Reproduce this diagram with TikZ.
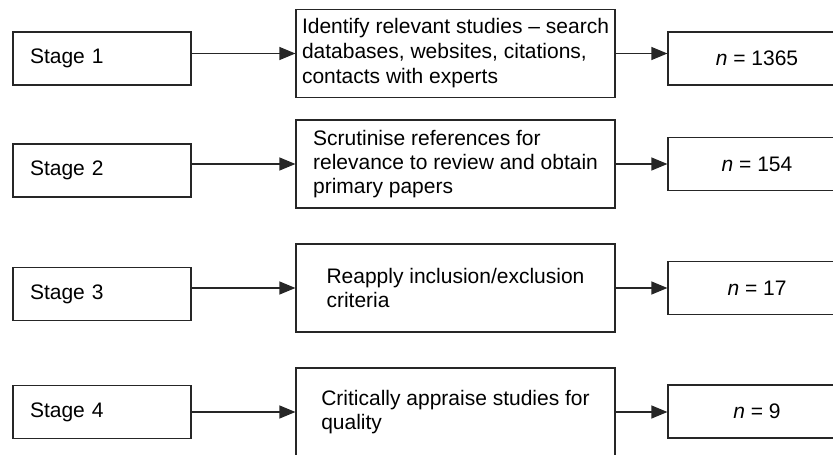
\documentclass[tikz,border=0pt]{standalone}
\usepackage{fontspec}
\setmainfont{Liberation Sans}
\usetikzlibrary{arrows.meta}

\begin{document}
\begin{tikzpicture}[x=1pt,y=-1pt,>={Triangle[length=16pt,width=13pt]},
every node/.style={font=\fontsize{21}{24}\selectfont},
stage/.style={draw=black!85,line width=1.2pt,align=left,text width=144pt,inner xsep=17pt,minimum height=53pt},
task/.style={draw=black!85,line width=1.2pt,align=left,minimum width=319pt,minimum height=88pt},
count/.style={draw=black!85,line width=1.2pt,minimum width=178pt,minimum height=53pt}]
\useasboundingbox (0,0) rectangle (833,455);
\node[stage] (s1) at (102,58.5) {Stage 1};
\node[stage] (s2) at (102,170.5) {Stage 2};
\node[stage] (s3) at (102,294) {Stage 3};
\node[stage] (s4) at (102,412) {Stage 4};
\node[task] (t1) at (455.5,53.5) {Identify relevant studies -- search\\[1pt]databases, websites, citations,\\[1pt]contacts with experts};
\node[task] (t2) at (455.5,164) {Scrutinise references for\\relevance to review and obtain\\primary papers};
\node[task] (t3) at (455.5,288) {Reapply inclusion/exclusion\\criteria};
\node[task] (t4) at (455.5,412) {Critically appraise studies for\\quality};
\node[count] (n1) at (757,58.5) {\textit{n} = 1365};
\node[count] (n2) at (757,164) {\textit{n} = 154};
\node[count] (n3) at (757,288) {\textit{n} = 17};
\node[count] (n4) at (757,411.5) {\textit{n} = 9};
\draw[->,line width=1.2pt,draw=black!85] (t1.west -| s1.east)--(t1.west);
\draw[->,line width=1.2pt,draw=black!85] (t2.west -| s2.east)--(t2.west);
\draw[->,line width=1.2pt,draw=black!85] (t3.west -| s3.east)--(t3.west);
\draw[->,line width=1.2pt,draw=black!85] (t4.west -| s4.east)--(t4.west);
\draw[->,line width=1.2pt,draw=black!85] (t1.east)--(t1.east -| n1.west);
\draw[->,line width=1.2pt,draw=black!85] (t2.east)--(t2.east -| n2.west);
\draw[->,line width=1.2pt,draw=black!85] (t3.east)--(t3.east -| n3.west);
\draw[->,line width=1.2pt,draw=black!85] (t4.east)--(t4.east -| n4.west);
\end{tikzpicture}
\end{document}
